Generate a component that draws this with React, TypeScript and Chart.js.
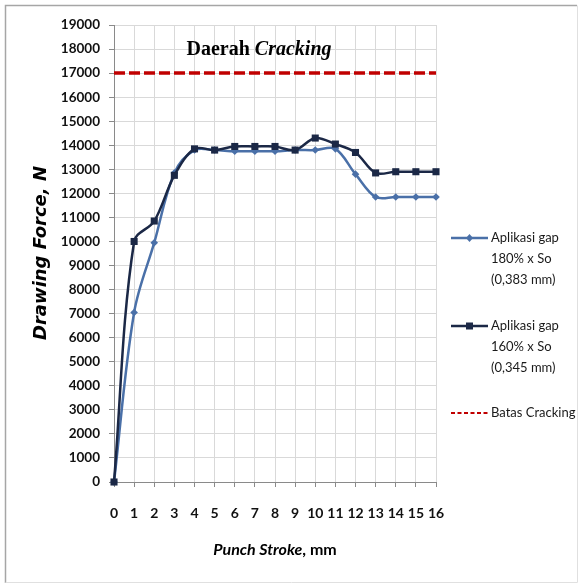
import React, { useEffect, useRef } from "react";
import { Chart, registerables } from "chart.js";

Chart.register(...registerables);

// ---- data ----
const punchStroke = [0, 1, 2, 3, 4, 5, 6, 7, 8, 9, 10, 11, 12, 13, 14, 15, 16];
const gap180 = [0, 7050, 9950, 12850, 13800, 13800, 13750, 13750, 13750, 13800, 13800, 13850, 12800, 11850, 11850, 11850, 11850];
const gap160 = [0, 10000, 10850, 12750, 13850, 13800, 13950, 13950, 13950, 13800, 14300, 14050, 13700, 12850, 12900, 12900, 12900];
const crackingLimit = 17000;
const yMin = 0;
const yMax = 19000;
const yStep = 1000;
const legend180 = ["Aplikasi gap", "180% x So", "(0,383 mm)"];
const legend160 = ["Aplikasi gap", "160% x So", "(0,345 mm)"];
const legendLimit = "Batas Cracking";
const regionTitleA = "Daerah ";
const regionTitleB = "Cracking";
const yTitle = "Drawing Force, N";
const xTitleA = "Punch Stroke";
const xTitleB = ", mm";

const COLOR_180 = "#4a70a8";
const COLOR_160 = "#1b2846";
const COLOR_LIMIT = "#c00000";

const decorPlugin = {
  id: "decor",
  afterDraw(chart: any) {
    const ctx = chart.ctx as CanvasRenderingContext2D;
    ctx.save();
    // outer border
    ctx.strokeStyle = "#a6a6a6";
    ctx.lineWidth = 1.5;
    ctx.beginPath();
    ctx.moveTo(5.5, 583);
    ctx.lineTo(5.5, 5.5);
    ctx.lineTo(577, 5.5);
    ctx.stroke();
    ctx.strokeStyle = "#e0e0e0";
    ctx.lineWidth = 1;
    ctx.beginPath();
    ctx.moveTo(577.5, 5.5);
    ctx.lineTo(577.5, 582.5);
    ctx.lineTo(5.5, 582.5);
    ctx.stroke();

    // region title
    ctx.fillStyle = "#000";
    ctx.textBaseline = "alphabetic";
    ctx.textAlign = "left";
    const fA = 'bold 20px "Liberation Serif"';
    const fB = 'italic bold 20px "Liberation Serif"';
    ctx.font = fA;
    const wA = ctx.measureText(regionTitleA).width;
    ctx.font = fB;
    const wB = ctx.measureText(regionTitleB).width;
    const tx = 259 - (wA + wB) / 2;
    ctx.font = fA;
    ctx.fillText(regionTitleA, tx, 55);
    ctx.font = fB;
    ctx.fillText(regionTitleB, tx + wA, 55);

    // y title
    ctx.save();
    ctx.translate(41, 253);
    ctx.rotate(-Math.PI / 2);
    ctx.font = 'italic bold 18px "DejaVu Sans"';
    ctx.textAlign = "center";
    ctx.textBaseline = "middle";
    ctx.fillText(yTitle, 0, 0);
    ctx.restore();

    // x title
    const xf1 = "italic bold 16px Lato";
    const xf2 = "bold 16px Lato";
    ctx.font = xf1;
    const w1 = ctx.measureText(xTitleA).width;
    ctx.font = xf2;
    const w2 = ctx.measureText(xTitleB).width;
    const xs = 275 - (w1 + w2) / 2;
    ctx.textBaseline = "middle";
    ctx.textAlign = "left";
    ctx.font = xf1;
    ctx.fillText(xTitleA, xs, 550);
    ctx.font = xf2;
    ctx.fillText(xTitleB, xs + w1, 550);

    // legend
    const lx0 = 451;
    const lx1 = 488;
    const tx0 = 491;
    ctx.font = "13px Lato";
    ctx.fillStyle = "#1a1a1a";
    const drawLines = (lines: string[], y0: number) => {
      lines.forEach((t, i) => ctx.fillText(t, tx0, y0 + i * 21));
    };
    const cx = (lx0 + lx1) / 2;
    // item 1
    ctx.strokeStyle = COLOR_180;
    ctx.lineWidth = 2.5;
    ctx.beginPath();
    ctx.moveTo(lx0, 238);
    ctx.lineTo(lx1, 238);
    ctx.stroke();
    ctx.fillStyle = COLOR_180;
    ctx.beginPath();
    ctx.moveTo(cx, 238 - 4);
    ctx.lineTo(cx + 3.5, 238);
    ctx.lineTo(cx, 238 + 4);
    ctx.lineTo(cx - 3.5, 238);
    ctx.closePath();
    ctx.fill();
    ctx.fillStyle = "#1a1a1a";
    drawLines(legend180, 238);
    // item 2
    ctx.strokeStyle = COLOR_160;
    ctx.beginPath();
    ctx.moveTo(lx0, 326);
    ctx.lineTo(lx1, 326);
    ctx.stroke();
    ctx.fillStyle = COLOR_160;
    ctx.fillRect(cx - 3.5, 326 - 3.5, 7, 7);
    ctx.fillStyle = "#1a1a1a";
    drawLines(legend160, 326);
    // item 3
    ctx.strokeStyle = COLOR_LIMIT;
    ctx.lineWidth = 2;
    ctx.setLineDash([4, 2.5]);
    ctx.beginPath();
    ctx.moveTo(lx0, 413);
    ctx.lineTo(lx1, 413);
    ctx.stroke();
    ctx.setLineDash([]);
    ctx.fillText(legendLimit, tx0, 413);
    ctx.restore();
  },
};

export default function App() {
  const ref = useRef<HTMLCanvasElement | null>(null);
  useEffect(() => {
    if (!ref.current) return;
    const toPts = (arr: number[]) => punchStroke.map((x, i) => ({ x, y: arr[i] }));
    const chart = new Chart(ref.current, {
      type: "line",
      data: {
        datasets: [
          {
            label: "Batas Cracking",
            data: [
              { x: punchStroke[0], y: crackingLimit },
              { x: punchStroke[punchStroke.length - 1], y: crackingLimit },
            ],
            borderColor: COLOR_LIMIT,
            borderWidth: 3.5,
            borderDash: [11, 4],
            pointRadius: 0,
            tension: 0,
            order: 3,
          },
          {
            label: "Aplikasi gap 180% x So (0,383 mm)",
            data: toPts(gap180),
            borderColor: COLOR_180,
            backgroundColor: COLOR_180,
            borderWidth: 2.5,
            pointStyle: "rectRot",
            pointRadius: 3.8,
            pointBorderWidth: 0,
            tension: 0.35,
            clip: false,
            order: 2,
          },
          {
            label: "Aplikasi gap 160% x So (0,345 mm)",
            data: toPts(gap160),
            borderColor: COLOR_160,
            backgroundColor: COLOR_160,
            borderWidth: 2.5,
            pointStyle: "rect",
            pointRadius: 5,
            pointBorderWidth: 0,
            tension: 0.35,
            clip: false,
            order: 1,
          },
        ],
      },
      options: {
        animation: false,
        responsive: false,
        devicePixelRatio: 1,
        layout: { padding: { left: 0, top: 25, right: 144, bottom: 0 } },
        plugins: {
          legend: { display: false },
          tooltip: { enabled: false },
          title: { display: false },
        },
        scales: {
          x: {
            type: "linear",
            min: 0,
            max: 16,
            afterFit: (s: any) => {
              s.height = 102;
            },
            ticks: {
              stepSize: 1,
              autoSkip: false,
              maxRotation: 0,
              padding: 18,
              color: "#111",
              font: { family: "Lato", size: 14, weight: "bold" },
              callback: (v: any) => String(v),
            },
            grid: { color: "#d9d9d9", tickLength: 5, tickColor: "#8a8a8a", lineWidth: 1 },
            border: { color: "#8a8a8a", width: 1 },
          },
          y: {
            type: "linear",
            min: yMin,
            max: yMax,
            afterFit: (s: any) => {
              s.width = 114;
            },
            ticks: {
              stepSize: yStep,
              autoSkip: false,
              padding: 9,
              color: "#111",
              font: { family: "Lato", size: 13.5, weight: "bold" },
              callback: (v: any) => String(v),
            },
            grid: { color: "#d9d9d9", tickLength: 5, tickColor: "#8a8a8a", lineWidth: 1 },
            border: { color: "#8a8a8a", width: 1 },
          },
        },
      },
      plugins: [decorPlugin],
    });
    return () => chart.destroy();
  }, []);
  return (
    <div style={{ position: "absolute", left: 0, top: 0, width: 580, height: 584, background: "#fff" }}>
      <canvas ref={ref} width={580} height={584} style={{ display: "block" }} />
    </div>
  );
}
